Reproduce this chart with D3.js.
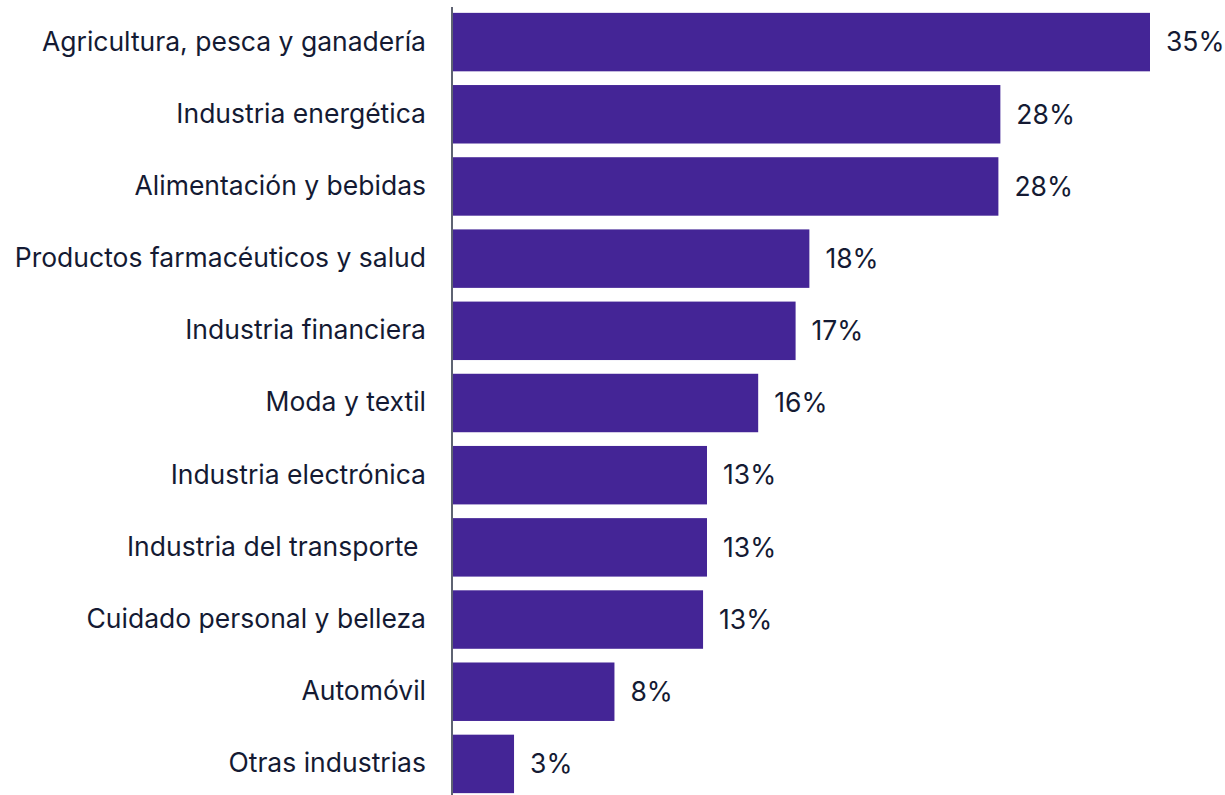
<!DOCTYPE html>
<html lang="es">
<head>
<meta charset="utf-8">
<script src="https://cdn.jsdelivr.net/npm/d3@7"></script>
<style>
  html, body { margin: 0; padding: 0; background: #ffffff; }
  svg { display: block; }
  text { font-family: Inter, "Noto Sans", sans-serif; fill: #141a33; }
</style>
</head>
<body>
<svg id="chart" width="1225" height="795"></svg>
<script>
// Sectores y porcentaje de empresas
const categories = [
  "Agricultura, pesca y ganadería",
  "Industria energética",
  "Alimentación y bebidas",
  "Productos farmacéuticos y salud",
  "Industria financiera",
  "Moda y textil",
  "Industria electrónica",
  "Industria del transporte ",
  "Cuidado personal y belleza",
  "Automóvil",
  "Otras industrias"
];
const values = [35.4, 27.8, 27.7, 18.1, 17.4, 15.5, 12.9, 12.9, 12.7, 8.2, 3.1];

const svg = d3.select("#chart");
const axisX = 452;
const fontSize = "26.5px";

const x = d3.scaleLinear().domain([0, values[0]]).range([axisX + 1, 1150]);
const y = d3.scaleBand()
  .domain(categories)
  .range([6, 800])
  .paddingInner(0.19)
  .paddingOuter(0.095);

const data = categories.map((c, i) => ({ c, v: values[i] }));
const fmt = v => d3.format(".0f")(v) + "%";

svg.append("g").selectAll("rect")
  .data(data)
  .join("rect")
  .attr("x", x(0))
  .attr("y", d => y(d.c))
  .attr("width", d => x(d.v) - x(0))
  .attr("height", y.bandwidth())
  .attr("fill", "#442596");

svg.append("g").selectAll("text")
  .data(data)
  .join("text")
  .attr("x", d => x(d.v) + 16)
  .attr("y", d => y(d.c) + y.bandwidth() / 2)
  .attr("dy", "0.35em")
  .style("font-size", fontSize)
  .text(d => fmt(d.v));

// Category axis: labels only, vertical rule drawn separately
const yAxis = svg.append("g")
  .attr("transform", `translate(${axisX - 26},0)`)
  .call(d3.axisLeft(y).tickSize(0).tickPadding(0));
yAxis.select(".domain").remove();
yAxis.selectAll("text")
  .style("font-size", fontSize)
  .style("white-space", "pre")
  .attr("fill", "#141a33")
  .attr("font-family", null);

svg.append("line")
  .attr("x1", axisX).attr("x2", axisX)
  .attr("y1", 7).attr("y2", 800)
  .attr("stroke", "#5e6372")
  .attr("stroke-width", 2);
</script>
</body>
</html>
